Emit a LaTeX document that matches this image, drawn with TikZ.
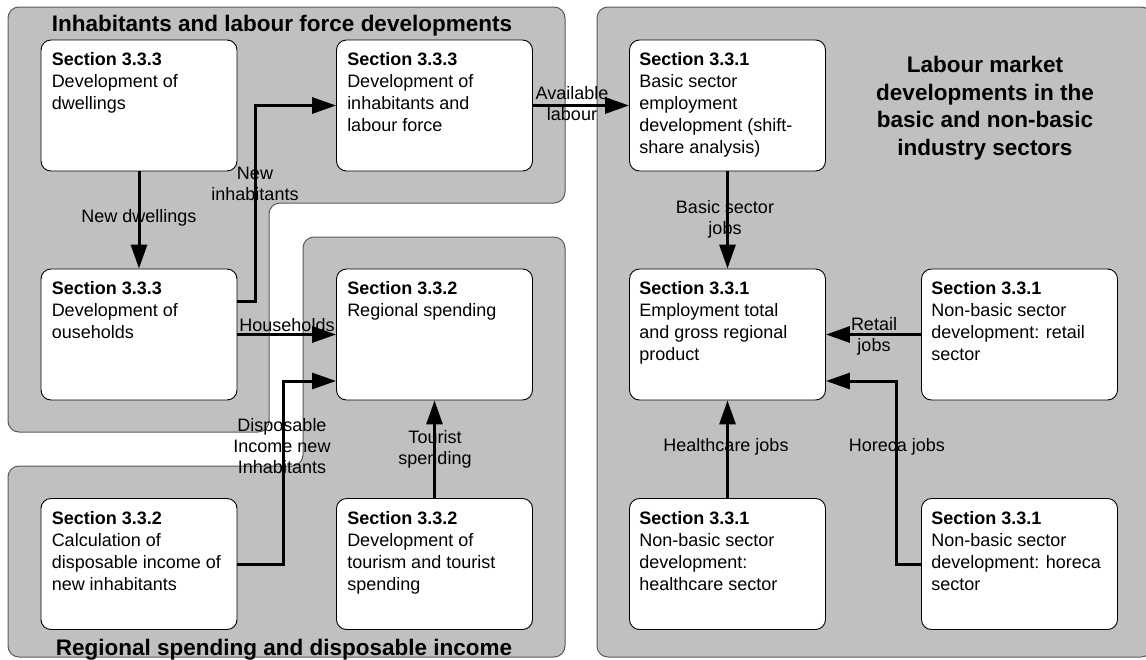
\documentclass[tikz,border=0pt]{standalone}
\usepackage{fontspec}
\setmainfont{Liberation Sans}
\usetikzlibrary{arrows.meta}
\definecolor{panelgray}{HTML}{C0C0C0}
\definecolor{paneledge}{HTML}{5A5A5A}
\begin{document}
\begin{tikzpicture}[x=1pt,y=-1pt,
  panel/.style={fill=panelgray, draw=paneledge, line width=1pt, rounded corners=11pt},
  box/.style={draw=black, fill=white, line width=0.9pt, rounded corners=10pt, minimum width=196pt, minimum height=131pt, inner sep=0pt},
  boxtext/.style={anchor=north west, align=left, inner sep=0pt, font=\fontsize{18}{22}\selectfont},
  lbl/.style={align=center, inner sep=0pt, font=\fontsize{18}{21}\selectfont},
  ttl/.style={align=center, inner sep=0pt, font=\fontsize{22.5}{27.7}\selectfont\bfseries},
  arr/.style={line width=3pt, -{Triangle[length=24pt,width=16pt]}},
  ]
\useasboundingbox (0,0) rectangle (1146,659);
\fill[white] (0,0) rectangle (1146,659);

% panels
\path[panel] (8,7) -- (565,7) -- (565,203) -- (269,203) -- (269,432) -- (8,432) -- cycle;
\path[panel] (303,237) -- (565,237) -- (565,657) -- (8,657) -- (8,466) -- (303,466) -- cycle;
\path[panel] (597,7) -- (1152,7) -- (1152,657) -- (597,657) -- cycle;

% titles
\node[ttl, anchor=base] (t1) at (282,31.5) {Inhabitants and labour force developments};
\node[ttl, anchor=base] (t2) at (284,655) {Regional spending and disposable income};
\node[ttl, anchor=north] (t3) at (985,56) {Labour market\\developments in the\\basic and non-basic\\industry sectors};

% boxes
\node[box] (dwell) at (139,105.5) {};
\node[box] (inhab) at (434.5,105.5) {};
\node[box] (house) at (139,334.5) {};
\node[box] (regsp) at (434.5,334.5) {};
\node[box] (disp) at (139,564) {};
\node[box] (tour) at (434.5,564) {};
\node[box] (basic) at (727.5,105.5) {};
\node[box] (empl) at (727.5,334.5) {};
\node[box] (retail) at (1019.5,334.5) {};
\node[box] (health) at (727.5,564) {};
\node[box] (horeca) at (1019.5,564) {};

% box texts
\node[boxtext] (dwellt) at ([xshift=11pt,yshift=-13pt]dwell.north west) {\textbf{Section 3.3.3}\\Development of\\dwellings};
\node[boxtext] (inhabt) at ([xshift=11pt,yshift=-13pt]inhab.north west) {\textbf{Section 3.3.3}\\Development of\\inhabitants and\\labour force};
\node[boxtext] (houset) at ([xshift=11pt,yshift=-13pt]house.north west) {\textbf{Section 3.3.3}\\Development of\\ouseholds};
\node[boxtext] (regspt) at ([xshift=11pt,yshift=-13pt]regsp.north west) {\textbf{Section 3.3.2}\\Regional spending};
\node[boxtext] (dispt) at ([xshift=11pt,yshift=-13pt]disp.north west) {\textbf{Section 3.3.2}\\Calculation of\\disposable income of\\new inhabitants};
\node[boxtext] (tourt) at ([xshift=11pt,yshift=-13pt]tour.north west) {\textbf{Section 3.3.2}\\Development of\\tourism and tourist\\spending};
\node[boxtext] (basict) at ([xshift=10pt,yshift=-13pt]basic.north west) {\textbf{Section 3.3.1}\\Basic sector\\employment\\development (shift-\\share analysis)};
\node[boxtext] (emplt) at ([xshift=10pt,yshift=-13pt]empl.north west) {\textbf{Section 3.3.1}\\Employment total\\and gross regional\\product};
\node[boxtext] (retailt) at ([xshift=10pt,yshift=-13pt]retail.north west) {\textbf{Section 3.3.1}\\Non-basic sector\\development: retail\\sector};
\node[boxtext] (healtht) at ([xshift=10pt,yshift=-13pt]health.north west) {\textbf{Section 3.3.1}\\Non-basic sector\\development:\\healthcare sector};
\node[boxtext] (horecat) at ([xshift=10pt,yshift=-13pt]horeca.north west) {\textbf{Section 3.3.1}\\Non-basic sector\\development: horeca\\sector};

% connector labels
\node[lbl] (l1) at (139,218) {New dwellings};
\node[lbl] (l2) at (255,184) {New\\inhabitants};
\node[lbl] (l3) at (287,325) {Households};
\node[lbl] (l4) at (282,446) {Disposable\\Income new\\Inhabitants};
\node[lbl] (l5) at (435,449) {Tourist\\spending};
\node[lbl] (l6) at (572,104) {Available\\labour};
\node[lbl] (l7) at (725,219) {Basic sector\\jobs};
\node[lbl] (l8) at (874,336) {Retail\\jobs};
\node[lbl] (l9) at (726,447) {Healthcare jobs};
\node[lbl] (l10) at (897,447) {Horeca jobs};

% connectors
\draw[arr] (dwell.south) -- (house.north);
\draw[arr] ([yshift=33.5pt]house.east) -- ++(18,0) |- (inhab.west);
\draw[arr] (house.east) -- (regsp.west);
\draw[arr] (disp.east) -- ++(46,0) |- ([yshift=-46.5pt]regsp.west);
\draw[arr] (tour.north) -- (regsp.south);
\draw[arr] (inhab.east) -- (basic.west);
\draw[arr] (basic.south) -- (empl.north);
\draw[arr] (retail.west) -- (empl.east);
\draw[arr] (health.north) -- (empl.south);
\draw[arr] (horeca.west) -- ++(-25,0) |- ([yshift=-46.5pt]empl.east);
\end{tikzpicture}
\end{document}
